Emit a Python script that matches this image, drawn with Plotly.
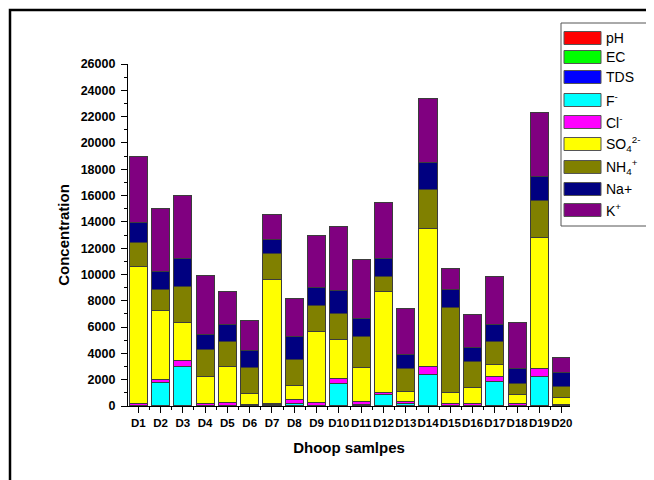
import plotly.graph_objects as go

samples = ["D1", "D2", "D3", "D4", "D5", "D6", "D7", "D8", "D9", "D10",
           "D11", "D12", "D13", "D14", "D15", "D16", "D17", "D18", "D19", "D20"]

pH = [7.2, 7.0, 6.9, 7.1, 7.3, 6.8, 7.0, 7.2, 7.1, 6.9, 7.0, 7.2, 7.1, 6.8, 7.0, 7.3, 6.9, 7.1, 7.0, 7.2]
EC = [12, 10, 14, 9, 11, 8, 12, 10, 13, 11, 9, 12, 10, 14, 11, 9, 12, 10, 13, 8]
TDS = [8, 7, 9, 6, 7, 5, 8, 7, 9, 7, 6, 8, 7, 9, 7, 6, 8, 7, 9, 5]
F = [40, 1800, 2950, 20, 30, 20, 80, 200, 30, 1700, 120, 850, 130, 2400, 30, 30, 1850, 30, 2250, 20]
Cl = [150, 200, 500, 180, 230, 100, 120, 300, 170, 400, 200, 150, 190, 600, 110, 140, 400, 160, 600, 80]
SO4 = [10400, 5200, 2850, 2050, 2690, 780, 9400, 1000, 5450, 2900, 2580, 7650, 780, 10500, 860, 1180, 850, 660, 9900, 500]
NH4 = [1800, 1600, 2750, 2050, 1950, 2000, 1950, 2000, 1950, 2000, 2400, 1200, 1750, 2950, 6500, 2000, 1800, 800, 2850, 900]
Na = [1550, 1400, 2150, 1100, 1250, 1300, 1100, 1750, 1400, 1750, 1350, 1300, 1050, 2050, 1300, 1050, 1250, 1200, 1800, 1050]
K = [5000, 4800, 4800, 4500, 2550, 2300, 1850, 2900, 3950, 4900, 4450, 4300, 3500, 4850, 1600, 2550, 3700, 3500, 4900, 1100]

series_values = [pH, EC, TDS, F, Cl, SO4, NH4, Na, K]
series_names = ["pH", "EC", "TDS", "F-", "Cl-", "SO4 2-", "NH4+", "Na+", "K+"]
series_labels = ["pH", "EC", "TDS", "F<sup>-</sup>", "Cl<sup>-</sup>",
                 "SO<sub>4</sub><sup>2-</sup>", "NH<sub>4</sub><sup>+</sup>", "Na+", "K<sup>+</sup>"]
series_colors = ["#FF0000", "#00FF00", "#0000FF", "#00FFFF", "#FF00FF",
                 "#FFFF00", "#808000", "#000080", "#800080"]

y_ticks = [0, 2000, 4000, 6000, 8000, 10000, 12000, 14000, 16000, 18000, 20000, 22000, 24000, 26000]
y_minor_ticks = [1000, 3000, 5000, 7000, 9000, 11000, 13000, 15000, 17000, 19000, 21000, 23000, 25000]

# the page body has an 8px margin, so the figure is drawn 8px smaller
W, H = 646, 472
L, R, T, B = 120, 562, 56, 398
FONT = "Liberation Sans, Arial, sans-serif"


def px(x):
    return (x - L) / (R - L)


def py(y):
    return (B - y) / (B - T)


fig = go.Figure()
for name, vals, col in zip(series_names, series_values, series_colors):
    fig.add_trace(go.Bar(
        x=samples, y=vals, name=name,
        marker=dict(color=col, line=dict(color="#3c3c3c", width=1)),
        showlegend=False,
    ))

# helper trace for minor ticks between categories and on the value axis
fig.add_trace(go.Scatter(x=samples, y=[None] * len(samples), xaxis="x2", yaxis="y2",
                         mode="markers", showlegend=False, hoverinfo="skip"))

shapes = []
annotations = []
# outer frame
shapes.append(dict(type="rect", xref="paper", yref="paper",
                   x0=px(2), x1=px(720), y0=py(2), y1=py(540),
                   line=dict(color="black", width=2.5), fillcolor="rgba(0,0,0,0)"))
# legend box
shapes.append(dict(type="rect", xref="paper", yref="paper",
                   x0=px(553), x1=px(639), y0=py(15), y1=py(218),
                   line=dict(color="#555555", width=1), fillcolor="white"))
centers = [30, 49, 69, 92, 114, 136, 159, 181, 202]
for cy, lab, col in zip(centers, series_labels, series_colors):
    shapes.append(dict(type="rect", xref="paper", yref="paper",
                       x0=px(556), x1=px(593), y0=py(cy - 6.5), y1=py(cy + 6.5),
                       line=dict(color="#555555", width=1), fillcolor=col))
    annotations.append(dict(x=px(596), y=py(cy), xref="paper", yref="paper",
                            xanchor="left", yanchor="middle", showarrow=False,
                            text=lab, font=dict(family=FONT, size=14, color="black")))

fig.update_layout(
    width=W, height=H,
    margin=dict(l=L, r=W - R, t=T, b=H - B, pad=0, autoexpand=False),
    paper_bgcolor="white", plot_bgcolor="white",
    barmode="stack", bargap=0.19,
    font=dict(family=FONT, color="black"),
    shapes=shapes, annotations=annotations,
    showlegend=False,
    xaxis=dict(
        type="category", range=[-0.46, 19.37],
        showline=True, linecolor="black", linewidth=1.2,
        ticks="outside", ticklen=6, tickwidth=1, tickcolor="black",
        tickangle=0, automargin=False,
        tickfont=dict(family=FONT, size=11.5, weight="bold"),
        showgrid=False, zeroline=False,
        title=dict(text="Dhoop samlpes", font=dict(family=FONT, size=15, weight="bold"), standoff=14),
    ),
    xaxis2=dict(
        type="category", overlaying="x", anchor="y", side="bottom",
        range=[-0.46, 19.37], tickson="boundaries",
        ticks="outside", ticklen=3, tickwidth=1, tickcolor="black",
        showticklabels=False, showline=False, showgrid=False, zeroline=False,
    ),
    yaxis=dict(
        range=[0, 26000], tickvals=y_ticks, tickformat="d",
        showline=True, linecolor="black", linewidth=1.2,
        ticks="outside", ticklen=6, tickwidth=1, tickcolor="black",
        ticklabelstandoff=3,
        tickfont=dict(family=FONT, size=12.5, weight="bold"),
        showgrid=False, zeroline=False, automargin=False,
        title=dict(text="Concentration", font=dict(family=FONT, size=15, weight="bold"), standoff=7),
    ),
    yaxis2=dict(
        range=[0, 26000], tickvals=y_minor_ticks, overlaying="y", anchor="x", side="left",
        ticks="outside", ticklen=3, tickwidth=1, tickcolor="black",
        showticklabels=False, showline=False, showgrid=False, zeroline=False,
    ),
)

fig.write_html("out.html")
